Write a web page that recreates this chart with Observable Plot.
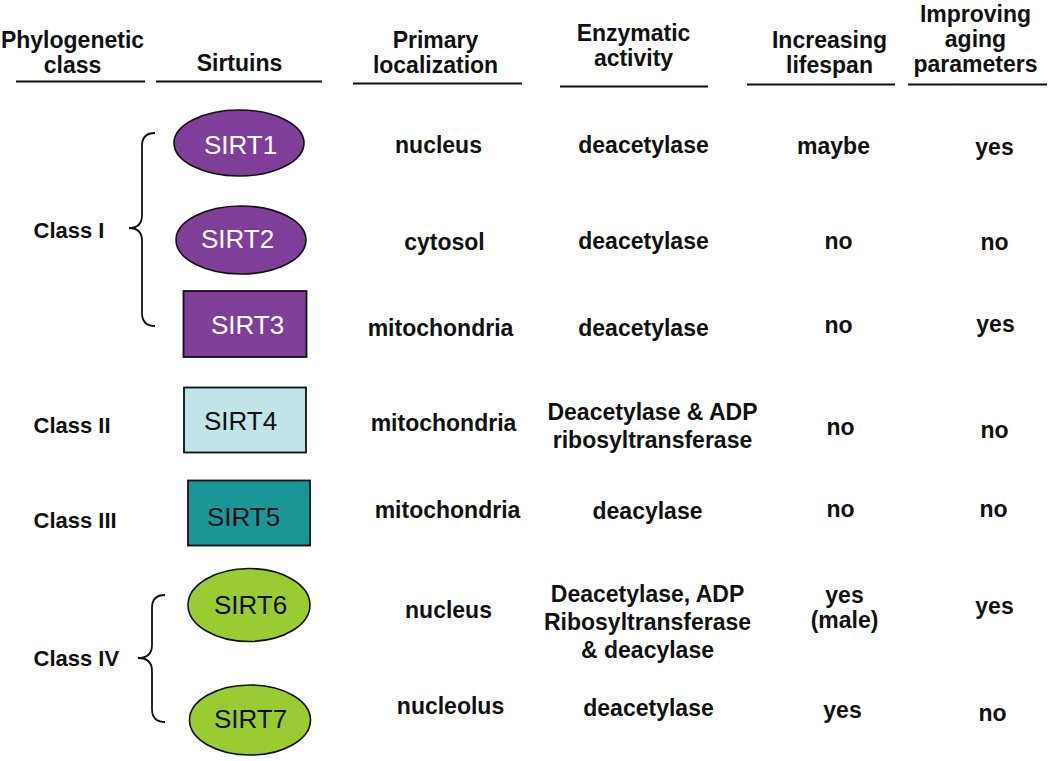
<!DOCTYPE html>
<html>
<head>
<meta charset="utf-8">
<script src="https://cdn.jsdelivr.net/npm/d3@7"></script>
<script src="https://cdn.jsdelivr.net/npm/@observablehq/plot@0.6"></script>
<style>
  html, body { margin: 0; padding: 0; background: #fff; overflow: hidden; }
  #chart svg { display: block; }
</style>
</head>
<body>
<div id="chart"></div>
<script>
// ---------------- DATA ----------------
const headers = ["Phylogenetic\nclass", "Sirtuins", "Primary\nlocalization", "Enzymatic\nactivity", "Increasing\nlifespan", "Improving\naging\nparameters"];
const sirtuins = ["SIRT1", "SIRT2", "SIRT3", "SIRT4", "SIRT5", "SIRT6", "SIRT7"];
const classes = ["Class I", "Class I", "Class I", "Class II", "Class III", "Class IV", "Class IV"];
const localization = ["nucleus", "cytosol", "mitochondria", "mitochondria", "mitochondria", "nucleus", "nucleolus"];
const activity = ["deacetylase", "deacetylase", "deacetylase", "Deacetylase & ADP\nribosyltransferase", "deacylase", "Deacetylase, ADP\nRibosyltransferase\n& deacylase", "deacetylase"];
const lifespan = ["maybe", "no", "no", "no", "no", "yes\n(male)", "yes"];
const aging = ["yes", "no", "yes", "no", "no", "yes", "no"];

// ---------------- STYLES ----------------
const shapeStyle = {
  SIRT1: {shape: "ellipse", fill: "#7f3f98", ink: "#ffffff"},
  SIRT2: {shape: "ellipse", fill: "#7f3f98", ink: "#ffffff"},
  SIRT3: {shape: "rect", fill: "#7f3f98", ink: "#ffffff"},
  SIRT4: {shape: "rect", fill: "#c0e4e8", ink: "#111111"},
  SIRT5: {shape: "rect", fill: "#1a9696", ink: "#111111"},
  SIRT6: {shape: "ellipse", fill: "#99cc33", ink: "#111111"},
  SIRT7: {shape: "ellipse", fill: "#99cc33", ink: "#111111"}
};

// ---------------- LAYOUT ----------------
const W = 1050, H = 761;
const FONT = "Liberation Sans, Arial, Helvetica, sans-serif";
const headerLayout = {x: [72, 239, 435, 633, 829, 975], lastCenter: [65, 63, 65, 58, 65, 64], gap: 25,
  rule: [[16, 145, 81], [156, 322, 81], [353, 522, 83], [560, 708, 86], [747, 895, 84], [908, 1047, 84]]};
const shapeLayout = {
  cx: [239, 241, 245, 245, 249, 249, 250],
  cy: [143, 240, 324, 420, 513, 605, 720],
  w: [130, 130, 123, 122, 122, 122, 121],
  h: [66, 68, 66, 65, 65, 73, 70],
  lx: [240, 237, 247, 240, 243, 250, 250],
  ly: [145, 239, 325, 421, 517, 605, 719]
};
const cellLayout = {
  localization: {x: [438, 444, 440, 443, 447, 448, 450], y: [145, 242, 328, 423, 510, 610, 706], gap: 28},
  activity: {x: [643, 643, 643, 652, 647, 647, 648], y: [145, 241, 328, 426, 511, 622, 708], gap: 28},
  lifespan: {x: [833, 838, 838, 840, 840, 844, 842], y: [146, 241, 325, 427, 509, 608, 710], gap: 25},
  aging: {x: [994, 994, 995, 994, 993, 994, 992], y: [147, 242, 324, 430, 509, 606, 713], gap: 25}
};
const classLayout = {"Class I": {x: 33, y: 230}, "Class II": {x: 33, y: 425}, "Class III": {x: 33, y: 520}, "Class IV": {x: 33, y: 658}};
const braceLayout = {"Class I": {xEnd: 155, xV: 142, xTip: 129, top: 133, mid: 228, bot: 326},
                     "Class IV": {xEnd: 165, xV: 152, xTip: 138, top: 595, mid: 658, bot: 722}};

// ---------------- DERIVED TABLES ----------------
const columns = {localization, activity, lifespan, aging};
const cellLines = [];
for (const [key, values] of Object.entries(columns)) {
  const L = cellLayout[key];
  values.forEach((v, i) => {
    const lines = v.split("\n");
    lines.forEach((t, j) => {
      cellLines.push({text: t, x: L.x[i], y: L.y[i] + (j - (lines.length - 1) / 2) * L.gap});
    });
  });
}
const headerLines = [];
headers.forEach((h, i) => {
  const lines = h.split("\n");
  lines.forEach((t, j) => {
    headerLines.push({text: t, x: headerLayout.x[i], y: headerLayout.lastCenter[i] - (lines.length - 1 - j) * headerLayout.gap});
  });
});
const headerRules = headers.map((h, i) => ({x1: headerLayout.rule[i][0], x2: headerLayout.rule[i][1], y: headerLayout.rule[i][2]}));

const shapes = sirtuins.map((s, i) => ({
  name: s, ...shapeStyle[s],
  cx: shapeLayout.cx[i], cy: shapeLayout.cy[i], w: shapeLayout.w[i], h: shapeLayout.h[i],
  lx: shapeLayout.lx[i], ly: shapeLayout.ly[i]
}));
const rects = shapes.filter(d => d.shape === "rect");
const ellipses = shapes.filter(d => d.shape === "ellipse");

const classNames = Array.from(new Set(classes));
const classLabels = classNames.map(c => ({text: c, ...classLayout[c]}));
const braces = classNames.filter(c => classes.filter(k => k === c).length > 1).map(c => ({cls: c, ...braceLayout[c]}));

// ---------------- CUSTOM RENDERERS (use Plot scales) ----------------
function ellipseMark(index, scales) {
  const g = d3.create("svg:g");
  g.selectAll("ellipse").data(ellipses).join("ellipse")
    .attr("cx", d => scales.x(d.cx))
    .attr("cy", d => scales.y(d.cy))
    .attr("rx", d => scales.x(d.cx + d.w / 2) - scales.x(d.cx))
    .attr("ry", d => scales.y(d.cy + d.h / 2) - scales.y(d.cy))
    .attr("fill", d => d.fill)
    .attr("stroke", "#111")
    .attr("stroke-width", 1.6);
  return g.node();
}
function braceMark(index, scales) {
  const g = d3.create("svg:g");
  const r = 13;
  g.selectAll("path").data(braces).join("path")
    .attr("d", d => {
      const X = v => scales.x(v), Y = v => scales.y(v);
      const p = d3.path();
      p.moveTo(X(d.xEnd), Y(d.top));
      p.quadraticCurveTo(X(d.xV), Y(d.top), X(d.xV), Y(d.top + r));
      p.lineTo(X(d.xV), Y(d.mid - r));
      p.quadraticCurveTo(X(d.xV), Y(d.mid), X(d.xTip), Y(d.mid));
      p.quadraticCurveTo(X(d.xV), Y(d.mid), X(d.xV), Y(d.mid + r));
      p.lineTo(X(d.xV), Y(d.bot - r));
      p.quadraticCurveTo(X(d.xV), Y(d.bot), X(d.xEnd), Y(d.bot));
      return p.toString();
    })
    .attr("fill", "none")
    .attr("stroke", "#111")
    .attr("stroke-width", 1.8);
  return g.node();
}

// ---------------- PLOT ----------------
const chart = Plot.plot({
  width: W, height: H,
  margin: 0,
  x: {domain: [0, W], range: [0, W], axis: null},
  y: {domain: [0, H], range: [0, H], axis: null},
  style: {background: "#ffffff", fontFamily: FONT},
  marks: [
    Plot.ruleY(headerRules, {x1: "x1", x2: "x2", y: "y", stroke: "#111", strokeWidth: 2}),
    Plot.text(headerLines, {x: "x", y: "y", text: "text", fontSize: 23, fontWeight: "bold", fill: "#111", fontFamily: FONT}),
    Plot.rect(rects, {x1: d => d.cx - d.w / 2, x2: d => d.cx + d.w / 2, y1: d => d.cy - d.h / 2, y2: d => d.cy + d.h / 2,
      fill: d => d.fill, stroke: "#111", strokeWidth: 1.8}),
    ellipseMark,
    braceMark,
    Plot.text(shapes, {x: "lx", y: "ly", text: "name", fill: d => d.ink, fontSize: 26, fontFamily: FONT}),
    Plot.text(classLabels, {x: "x", y: "y", text: "text", textAnchor: "start", fontSize: 22, fontWeight: "bold", fill: "#111", fontFamily: FONT}),
    Plot.text(cellLines, {x: "x", y: "y", text: "text", fontSize: 23, fontWeight: "bold", fill: "#111", fontFamily: FONT})
  ]
});
document.getElementById("chart").appendChild(chart);
</script>
</body>
</html>
